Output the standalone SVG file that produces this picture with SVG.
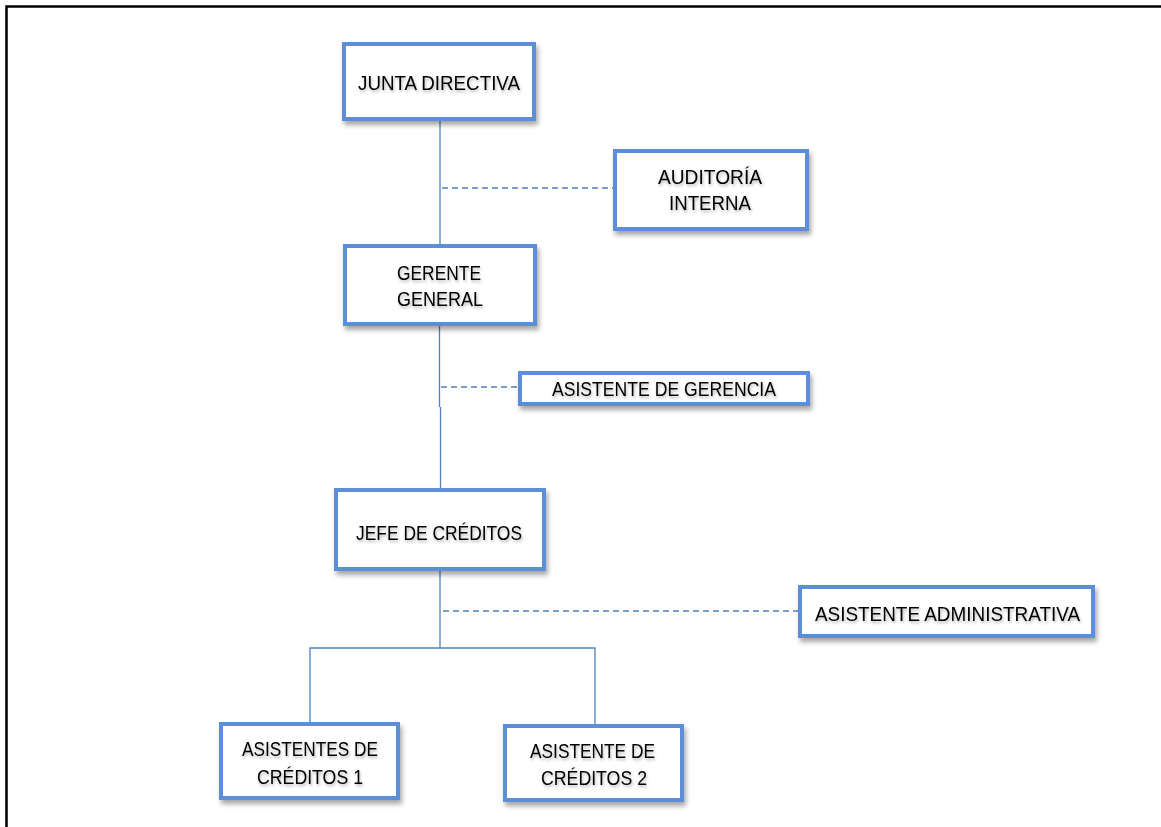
<svg xmlns="http://www.w3.org/2000/svg" width="1161" height="827" viewBox="0 0 1161 827">
<style>
.box{fill:#ffffff;stroke:#5b8fd6;stroke-width:4;filter:url(#sh)}
.t{font-family:"Liberation Sans",Arial,sans-serif;font-size:20px;fill:#000;text-anchor:start;filter:url(#ts)}
.ln{stroke:#4f81bd;stroke-width:1.3;fill:none}
.dl{stroke:#4f81bd;stroke-width:1.3;fill:none;stroke-dasharray:6 4}
</style>
<defs>
<filter id="sh" x="-10%" y="-10%" width="130%" height="140%">
<feDropShadow dx="2" dy="4" stdDeviation="2.5" flood-color="#000" flood-opacity="0.35"/>
</filter>
<filter id="ts" x="-5%" y="-30%" width="110%" height="170%">
<feDropShadow dx="1" dy="2" stdDeviation="1.5" flood-color="#000" flood-opacity="0.3"/>
</filter>
</defs>
<rect x="0" y="0" width="1161" height="827" fill="#ffffff"/>
<path d="M6.5,827 V6.5 H1161" stroke="#000" stroke-width="2.5" fill="none"/>
<g id="connectors">
<path class="ln" d="M440,121 V244"/>
<path class="dl" d="M442,188 H613"/>
<path class="ln" d="M439.5,326 V407 M440.5,407 V488"/>
<path class="dl" d="M441,387 H518"/>
<path class="ln" d="M440,571 V648"/>
<path class="dl" d="M443,611 H798"/>
<path class="ln" d="M310,722 V648 H595 V724"/>
</g>
<g id="junta">
<rect class="box" x="344" y="44" width="190" height="75"/>
<text class="t" x="358" y="90" textLength="162" lengthAdjust="spacingAndGlyphs">JUNTA DIRECTIVA</text>
</g>
<g id="auditoria">
<rect class="box" x="615" y="151" width="192" height="78"/>
<text class="t" x="658" y="184" textLength="104" lengthAdjust="spacingAndGlyphs">AUDITORÍA</text>
<text class="t" x="669" y="210" textLength="82" lengthAdjust="spacingAndGlyphs">INTERNA</text>
</g>
<g id="gerente">
<rect class="box" x="345" y="246" width="190" height="78"/>
<text class="t" x="397" y="280" textLength="84" lengthAdjust="spacingAndGlyphs">GERENTE</text>
<text class="t" x="397" y="306" textLength="86" lengthAdjust="spacingAndGlyphs">GENERAL</text>
</g>
<g id="asistente-gerencia">
<rect class="box" x="520" y="373" width="288" height="31"/>
<text class="t" x="552" y="396" textLength="224" lengthAdjust="spacingAndGlyphs">ASISTENTE DE GERENCIA</text>
</g>
<g id="jefe">
<rect class="box" x="336" y="490" width="208" height="79"/>
<text class="t" x="356" y="540" textLength="166" lengthAdjust="spacingAndGlyphs">JEFE DE CRÉDITOS</text>
</g>
<g id="asistente-administrativa">
<rect class="box" x="800" y="587" width="293" height="49"/>
<text class="t" x="815" y="621" textLength="265" lengthAdjust="spacingAndGlyphs">ASISTENTE ADMINISTRATIVA</text>
</g>
<g id="asistentes-creditos-1">
<rect class="box" x="221" y="724" width="177" height="74"/>
<text class="t" x="242" y="756" textLength="136" lengthAdjust="spacingAndGlyphs">ASISTENTES DE</text>
<text class="t" x="257" y="784" textLength="106" lengthAdjust="spacingAndGlyphs">CRÉDITOS 1</text>
</g>
<g id="asistente-creditos-2">
<rect class="box" x="505" y="726" width="177" height="74"/>
<text class="t" x="530" y="758" textLength="125" lengthAdjust="spacingAndGlyphs">ASISTENTE DE</text>
<text class="t" x="541" y="785" textLength="106" lengthAdjust="spacingAndGlyphs">CRÉDITOS 2</text>
</g>
</svg>
